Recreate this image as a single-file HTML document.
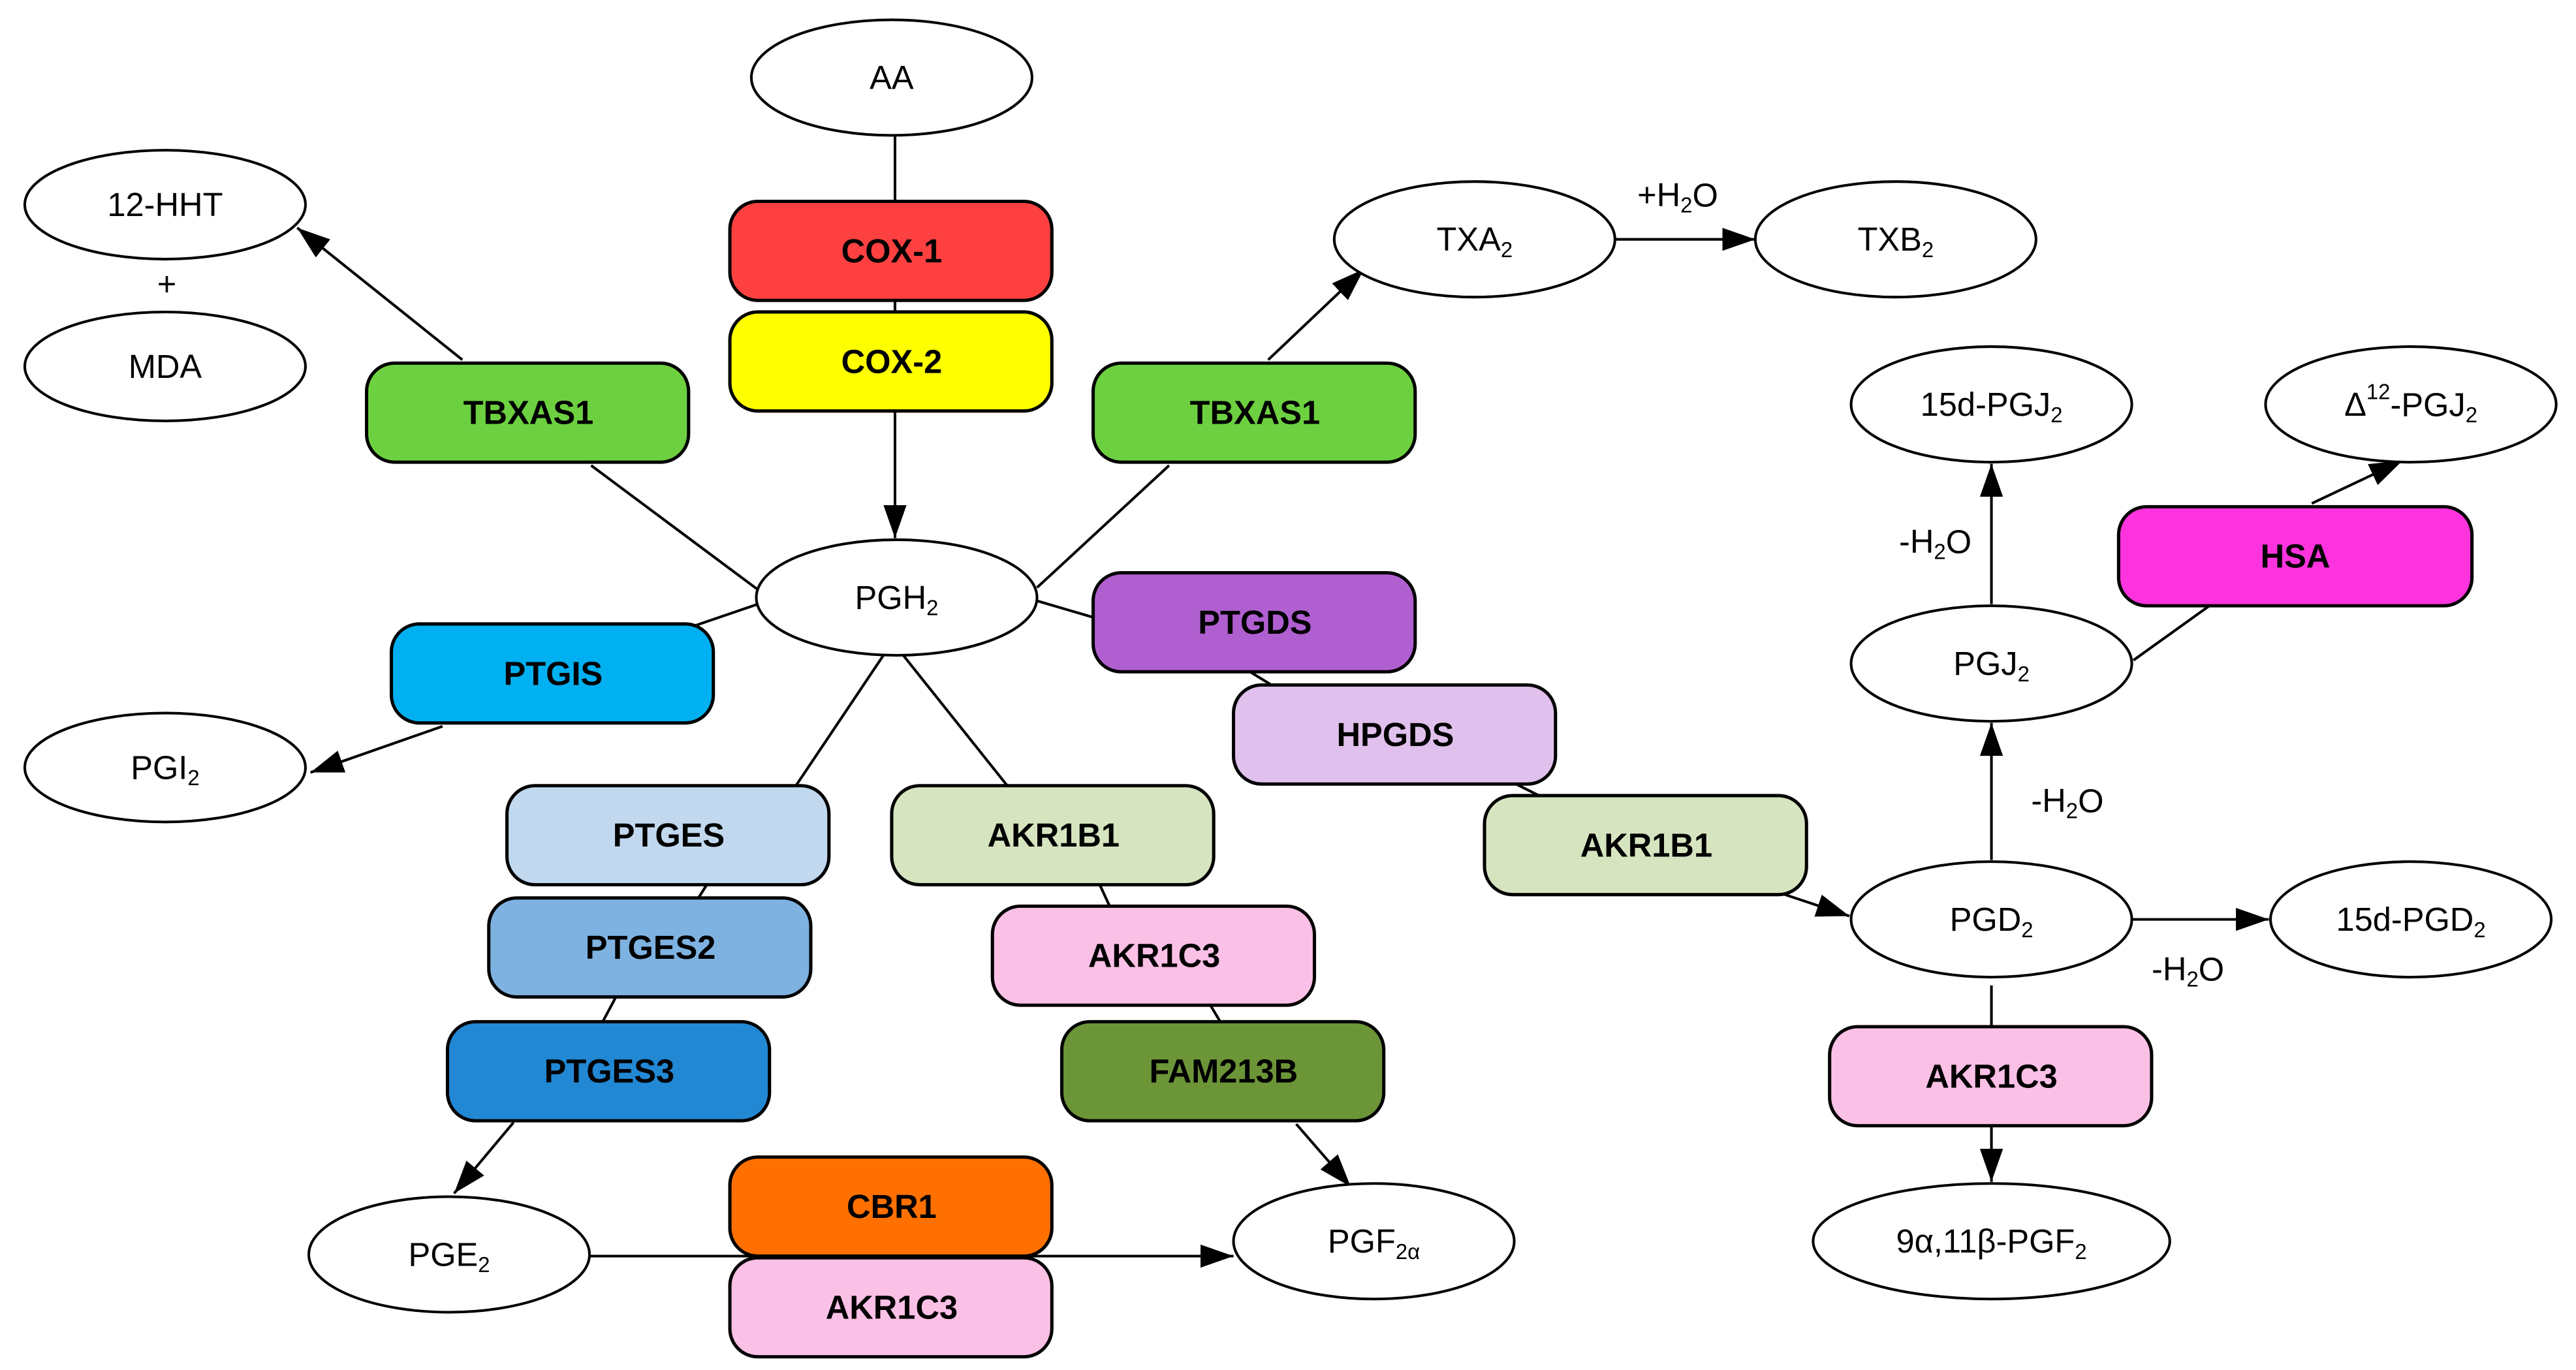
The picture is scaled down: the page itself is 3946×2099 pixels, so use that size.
<!DOCTYPE html>
<html><head><meta charset="utf-8"><style>
html,body{margin:0;padding:0;background:#fff;}
svg{display:block;}
text{font-family:"Liberation Sans Narrow","Liberation Sans",sans-serif;}
.e{fill:#fff;stroke:#000;stroke-width:1.6;}
.b{stroke:#000;stroke-width:2;}
.l{stroke:#000;stroke-width:1.6;fill:none;}
.t{font-size:20px;text-anchor:middle;dominant-baseline:central;}
.bt{font-size:20px;font-weight:bold;text-anchor:middle;dominant-baseline:central;}
</style></head><body>
<svg width="3946" height="2099" viewBox="0 0 1560 830" preserveAspectRatio="none" xmlns="http://www.w3.org/2000/svg">
<defs><marker id="a" viewBox="0 0 10 10" refX="10" refY="5" markerWidth="11" markerHeight="11" markerUnits="userSpaceOnUse" orient="auto"><path d="M0,0 L10,5 L0,10 z"/></marker>
<marker id="A" viewBox="0 0 10 10" refX="10" refY="5" markerWidth="20" markerHeight="14" markerUnits="userSpaceOnUse" orient="auto" preserveAspectRatio="none"><path d="M0,0 L10,5 L0,10 z"/></marker></defs>
<!-- lines -->
<g class="l">
<line x1="542" y1="82" x2="542" y2="122"/>
<line x1="542" y1="182" x2="542" y2="189"/>
<line x1="542" y1="249" x2="542" y2="326" marker-end="url(#A)"/>
<line x1="280" y1="218" x2="180" y2="138" marker-end="url(#A)"/>
<line x1="358" y1="282" x2="460" y2="358"/>
<line x1="768" y1="218" x2="826" y2="163" marker-end="url(#A)"/>
<line x1="708" y1="282" x2="628" y2="356"/>
<line x1="978" y1="145" x2="1063" y2="145" marker-end="url(#A)"/>
<line x1="628" y1="364" x2="662" y2="374"/>
<line x1="757" y1="407" x2="770" y2="415"/>
<line x1="918" y1="475" x2="932" y2="482"/>
<line x1="1075" y1="540" x2="1120" y2="555" marker-end="url(#A)"/>
<line x1="1291" y1="557" x2="1374" y2="557" marker-end="url(#A)"/>
<line x1="1206" y1="521" x2="1206" y2="438" marker-end="url(#A)"/>
<line x1="1206" y1="366" x2="1206" y2="281" marker-end="url(#A)"/>
<line x1="1292" y1="400" x2="1338" y2="367"/>
<line x1="1400" y1="305" x2="1455" y2="279" marker-end="url(#A)"/>
<line x1="1206" y1="597" x2="1206" y2="622"/>
<line x1="1206" y1="682" x2="1206" y2="716" marker-end="url(#A)"/>
<line x1="459" y1="366" x2="418" y2="380"/>
<line x1="268" y1="440" x2="188" y2="468" marker-end="url(#A)"/>
<line x1="535" y1="397" x2="482" y2="476"/>
<line x1="428" y1="536" x2="423" y2="544"/>
<line x1="373" y1="604" x2="365" y2="619"/>
<line x1="311" y1="680" x2="275" y2="723" marker-end="url(#A)"/>
<line x1="547" y1="397" x2="610" y2="476"/>
<line x1="666" y1="536" x2="672" y2="549"/>
<line x1="733" y1="609" x2="739" y2="619"/>
<line x1="785" y1="681" x2="818" y2="719" marker-end="url(#A)"/>
<line x1="357" y1="761" x2="747" y2="761" marker-end="url(#A)"/>
</g>
<!-- ellipses -->
<ellipse class="e" cx="540" cy="47" rx="85" ry="35"/><text class="t" x="540" y="47">AA</text>
<ellipse class="e" cx="100" cy="124" rx="85" ry="33"/><text class="t" x="100" y="124">12-HHT</text>
<text class="t" x="101" y="172">+</text>
<ellipse class="e" cx="100" cy="222" rx="85" ry="33"/><text class="t" x="100" y="222">MDA</text>
<ellipse class="e" cx="543" cy="362" rx="85" ry="35"/><text class="t" x="543" y="362">PGH<tspan font-size="13" dy="6">2</tspan></text>
<ellipse class="e" cx="893" cy="145" rx="85" ry="35"/><text class="t" x="893" y="145">TXA<tspan font-size="13" dy="6">2</tspan></text>
<ellipse class="e" cx="1148" cy="145" rx="85" ry="35"/><text class="t" x="1148" y="145">TXB<tspan font-size="13" dy="6">2</tspan></text>
<text class="t" x="1016" y="118">+H<tspan font-size="13" dy="6">2</tspan><tspan dy="-6">O</tspan></text>
<ellipse class="e" cx="100" cy="465" rx="85" ry="33"/><text class="t" x="100" y="465">PGI<tspan font-size="13" dy="6">2</tspan></text>
<ellipse class="e" cx="272" cy="760" rx="85" ry="35"/><text class="t" x="272" y="760">PGE<tspan font-size="13" dy="6">2</tspan></text>
<ellipse class="e" cx="832" cy="752" rx="85" ry="35"/><text class="t" x="832" y="752">PGF<tspan font-size="13" dy="6">2α</tspan></text>
<ellipse class="e" cx="1206" cy="245" rx="85" ry="35"/><text class="t" x="1206" y="245">15d-PGJ<tspan font-size="13" dy="6">2</tspan></text>
<ellipse class="e" cx="1460" cy="245" rx="88" ry="35"/><text class="t" x="1460" y="245">Δ<tspan font-size="13" dy="-8">12</tspan><tspan dy="8">-PGJ</tspan><tspan font-size="13" dy="6">2</tspan></text>
<ellipse class="e" cx="1206" cy="402" rx="85" ry="35"/><text class="t" x="1206" y="402">PGJ<tspan font-size="13" dy="6">2</tspan></text>
<ellipse class="e" cx="1206" cy="557" rx="85" ry="35"/><text class="t" x="1206" y="557">PGD<tspan font-size="13" dy="6">2</tspan></text>
<ellipse class="e" cx="1460" cy="557" rx="85" ry="35"/><text class="t" x="1460" y="557">15d-PGD<tspan font-size="13" dy="6">2</tspan></text>
<ellipse class="e" cx="1206" cy="752" rx="108" ry="35"/><text class="t" x="1206" y="752">9α,11β-PGF<tspan font-size="13" dy="6">2</tspan></text>
<text class="t" x="1172" y="328">-H<tspan font-size="13" dy="6">2</tspan><tspan dy="-6">O</tspan></text>
<text class="t" x="1252" y="485">-H<tspan font-size="13" dy="6">2</tspan><tspan dy="-6">O</tspan></text>
<text class="t" x="1325" y="587">-H<tspan font-size="13" dy="6">2</tspan><tspan dy="-6">O</tspan></text>
<!-- boxes -->
<g>
<rect class="b" x="442" y="122" width="195" height="60" rx="17" fill="#FF4040"/><text class="bt" x="540" y="152">COX-1</text>
<rect class="b" x="442" y="189" width="195" height="60" rx="17" fill="#FFFF00"/><text class="bt" x="540" y="219">COX-2</text>
<rect class="b" x="222" y="220" width="195" height="60" rx="17" fill="#6DD040"/><text class="bt" x="320" y="250">TBXAS1</text>
<rect class="b" x="662" y="220" width="195" height="60" rx="17" fill="#6DD040"/><text class="bt" x="760" y="250">TBXAS1</text>
<rect class="b" x="662" y="347" width="195" height="60" rx="17" fill="#B05FD0"/><text class="bt" x="760" y="377">PTGDS</text>
<rect class="b" x="747" y="415" width="195" height="60" rx="17" fill="#E0C0EC"/><text class="bt" x="845" y="445">HPGDS</text>
<rect class="b" x="899" y="482" width="195" height="60" rx="17" fill="#D6E4C0"/><text class="bt" x="997" y="512">AKR1B1</text>
<rect class="b" x="1283" y="307" width="214" height="60" rx="17" fill="#FF33DD"/><text class="bt" x="1390" y="337">HSA</text>
<rect class="b" x="1108" y="622" width="195" height="60" rx="17" fill="#FBC0E6"/><text class="bt" x="1206" y="652">AKR1C3</text>
<rect class="b" x="237" y="378" width="195" height="60" rx="17" fill="#00B0F0"/><text class="bt" x="335" y="408">PTGIS</text>
<rect class="b" x="307" y="476" width="195" height="60" rx="17" fill="#C2D8EE"/><text class="bt" x="405" y="506">PTGES</text>
<rect class="b" x="296" y="544" width="195" height="60" rx="17" fill="#7EB2E0"/><text class="bt" x="394" y="574">PTGES2</text>
<rect class="b" x="271" y="619" width="195" height="60" rx="17" fill="#2288D4"/><text class="bt" x="369" y="649">PTGES3</text>
<rect class="b" x="540" y="476" width="195" height="60" rx="17" fill="#D6E4C0"/><text class="bt" x="638" y="506">AKR1B1</text>
<rect class="b" x="601" y="549" width="195" height="60" rx="17" fill="#FBC0E6"/><text class="bt" x="699" y="579">AKR1C3</text>
<rect class="b" x="643" y="619" width="195" height="60" rx="17" fill="#6C9538"/><text class="bt" x="741" y="649">FAM213B</text>
<rect class="b" x="442" y="762" width="195" height="60" rx="17" fill="#FBC0E6"/><text class="bt" x="540" y="792">AKR1C3</text>
<rect class="b" x="442" y="701" width="195" height="60" rx="17" fill="#FF7000"/><text class="bt" x="540" y="731">CBR1</text>
</g>
</svg>
</body></html>
